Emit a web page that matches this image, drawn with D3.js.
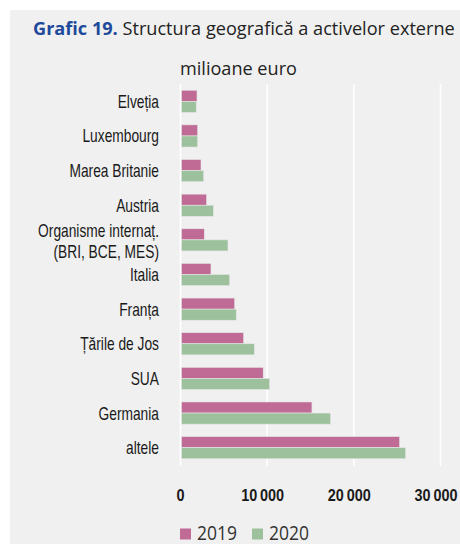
<!DOCTYPE html>
<html>
<head>
<meta charset="utf-8">
<script src="https://cdn.jsdelivr.net/npm/d3@7"></script>
<style>
  body { margin: 0; background: #fff; }
  .cat { font-family: "Liberation Sans", Arial, sans-serif; font-size: 18px; fill: #1a1a1a; }
  .tick-lbl { font-family: "Liberation Sans", Arial, sans-serif; font-size: 16px; font-weight: bold; fill: #1a1a1a; }
</style>
</head>
<body>
<div class="chart"></div>
<script>
var categories = ["Elveția", "Luxembourg", "Marea Britanie", "Austria", "Organisme internaț.|(BRI, BCE, MES)",
  "Italia", "Franța", "Țările de Jos", "SUA", "Germania", "altele"];
var years = ["2019", "2020"];
var values2019 = [1790, 1870, 2250, 2900, 2630, 3400, 6140, 7170, 9430, 15050, 25170];
var values2020 = [1700, 1870, 2560, 3670, 5360, 5560, 6320, 8400, 10170, 17200, 25860];
var xTicks = [0, 10000, 20000, 30000];
var colors = ["#c06b95", "#9dc09d"];

var W = 460, H = 544;
var svg = d3.select(".chart").append("svg")
    .attr("width", W)
    .attr("height", H);

// squeeze a text horizontally around anchor ax so it gets width w
function fitWidth(sel, ax, w) {
  var cur = sel.node().getBBox().width;
  sel.attr("transform", "translate(" + ax + ",0) scale(" + (w / cur) + ",1) translate(" + (-ax) + ",0)");
}

// gray panel
svg.append("rect")
    .attr("x", 10).attr("y", 10)
    .attr("width", W - 10).attr("height", H - 10)
    .attr("fill", "#f0f0f0");

// title
var title = svg.append("text")
    .attr("x", 33).attr("y", 35)
    .style("font-family", "'Open Sans', sans-serif")
    .style("font-size", "17.5px");
title.append("tspan").text("Grafic 19.").attr("font-weight", "bold").attr("fill", "#1f4a9b");
title.append("tspan").text(" Structura geografică a activelor externe").attr("fill", "#222");
fitWidth(title, 33, 422);

var unit = svg.append("text")
    .attr("x", 180).attr("y", 75)
    .style("font-family", "'Open Sans', sans-serif")
    .style("font-size", "17.5px")
    .attr("fill", "#222")
    .text("milioane euro");
fitWidth(unit, 180, 117);

var x = d3.scaleLinear().domain([0, 30000]).range([180.5, 440.5]);
var y = d3.scaleBand().domain(categories).range([84, 465]).paddingInner(0.36).paddingOuter(0.18);
var ySub = d3.scaleBand().domain(years).range([0, y.bandwidth()]);

// gridlines
svg.append("g").selectAll("line")
    .data(xTicks)
    .enter().append("line")
    .attr("x1", function(d) { return x(d); })
    .attr("x2", function(d) { return x(d); })
    .attr("y1", 84).attr("y2", 466)
    .attr("stroke", "#fff")
    .attr("stroke-width", 1.5);

// bars
var series = [values2019, values2020];
var group = svg.append("g").selectAll("g")
    .data(categories)
    .enter().append("g")
    .attr("transform", function(d) { return "translate(0," + y(d) + ")"; });

group.selectAll("rect")
    .data(function(d, i) { return years.map(function(yr, j) { return {year: yr, value: series[j][i], j: j}; }); })
    .enter().append("rect")
    .attr("x", x(0) + 1)
    .attr("y", function(d) { return ySub(d.year); })
    .attr("width", function(d) { return x(d.value) - x(0); })
    .attr("height", ySub.bandwidth())
    .attr("fill", function(d) { return colors[d.j]; })
    .attr("stroke", "#e6e6e6")
    .attr("stroke-width", 0.6);

// category labels
var labels = group.append("text")
    .attr("class", "cat")
    .attr("x", 159)
    .attr("text-anchor", "end")
    .each(function(d) {
      var parts = d.split("|");
      var t = d3.select(this);
      var mid = y.bandwidth() / 2;
      var off = parts.length > 1 ? 7.5 : 6.5;
      parts.forEach(function(p, k) {
        t.append("tspan")
          .attr("x", 159)
          .attr("y", mid + off + (k - (parts.length - 1) / 2) * 21)
          .text(p);
      });
    });
// condense labels (the original uses a narrow face)
var refLine = labels.filter(function(d) { return d.indexOf("|") > -1; }).select("tspan").node();
var squeeze = 121 / refLine.getComputedTextLength();
labels.attr("transform", "translate(159,0) scale(" + squeeze + ",1) translate(-159,0)");

// x tick labels
var tl = svg.append("g").selectAll("text")
    .data(xTicks)
    .enter().append("text")
    .attr("class", "tick-lbl")
    .attr("x", function(d) { return x(d) - (d > 0 ? 4.5 : 0); })
    .attr("y", 501)
    .attr("text-anchor", "middle")
    .text(function(d) { return d3.format(",")(d).replace(",", "\u2009"); });
var tickSqueeze = 43 / tl.filter(function(d) { return d === 10000; }).node().getComputedTextLength();
tl.attr("transform", function(d) {
  var cx = x(d) - (d > 0 ? 4.5 : 0);
  return "translate(" + cx + ",0) scale(" + tickSqueeze + ",1) translate(" + (-cx) + ",0)";
});

// legend
var leg = svg.append("g").selectAll("g")
    .data(years)
    .enter().append("g")
    .attr("transform", function(d, i) { return "translate(" + (180 + i * 72) + ",528.5)"; });
leg.append("rect")
    .attr("width", 11).attr("height", 11)
    .attr("fill", function(d, i) { return colors[i]; });
leg.append("text")
    .attr("x", 17).attr("y", 11.5)
    .style("font-family", "'Open Sans', sans-serif")
    .style("font-size", "19.5px")
    .attr("fill", "#333")
    .text(function(d) { return d; })
    .each(function() { fitWidth(d3.select(this), 17, 40); });
</script>
</body>
</html>
